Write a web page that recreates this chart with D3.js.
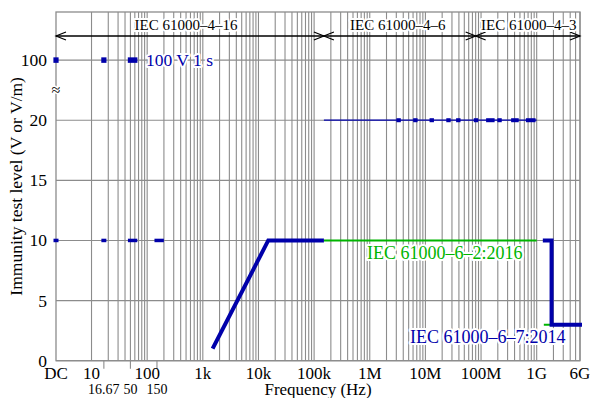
<!DOCTYPE html>
<html>
<head>
<meta charset="utf-8">
<script src="https://cdn.jsdelivr.net/npm/d3@7"></script>
<style>
  html, body { margin: 0; padding: 0; background: #fff; }
  svg { display: block; font-family: "Liberation Serif", "DejaVu Serif", serif; }
</style>
</head>
<body>
<svg id="chart" width="590" height="398"></svg>
<script>
// ---------- data ----------
const DC = 2.3;                       // position used for the "DC" tick
const xTickValues = [DC, 10, 100, 1e3, 1e4, 1e5, 1e6, 1e7, 1e8, 1e9, 6e9];
const xTickLabels = ["DC", "10", "100", "1k", "10k", "100k", "1M", "10M", "100M", "1G", "6G"];
const xSmallTickValues = [16.67, 50, 150];
const xSmallTickLabels = ["16.67", "50", "150"];
const yTickValues = [0, 5, 10, 15, 20, 100];
const yTickLabels = ["0", "5", "10", "15", "20", "100"];

// IEC 61000-6-7:2014 (blue)
const blueRamp = [[1.5e3, 1], [15e3, 10], [150e3, 10]];
const blueRadiated = [[1.4e9, 10], [1.85e9, 10], [1.85e9, 3], [6e9, 3]];
const blue20Line = [[150e3, 20], [1e9, 20]];
const blue20Spots = [[3.3e6], [6.6e6], [13e6], [26e6], [39e6], [81e6], [135e6, 160e6], [215e6], [380e6, 434e6], [700e6, 870e6]];
const blue100Spots = [[DC], [16.67], [50, 60]];
const blue10Spots = [[DC], [16.67], [50, 60], [150, 180]];
// IEC 61000-6-2:2016 (green)
const green10 = [[150e3, 10], [1e9, 10]];
const green3 = [[1.4e9, 3], [6e9, 3]];

const basicStandards = ["IEC 61000\u20134\u201316", "IEC 61000\u20134\u20136", "IEC 61000\u20134\u20133"];
const basicFrom = [DC, 150e3, 80e6];
const basicTo = [150e3, 80e6, 6e9];

const labelGreen = "IEC 61000\u20136\u20132:2016";
const labelBlue = "IEC 61000\u20136\u20137:2014";
const label100 = "100 V 1 s";

// ---------- layout ----------
const L = 56, R = 580, T = 12, B = 360.7;
const BLUE = "#0000aa", GREEN = "#00b400", GRID = "#8c8c8c";

const svg = d3.select("#chart");
const x = d3.scaleLog().domain([DC, 6e9]).range([L, R]);
const yLin = d3.scaleLinear().domain([0, 29]).range([B, T]);
const y = v => yLin(v === 100 ? 25 : v);   // axis break: 100 drawn at 25

// ---------- grid ----------
const gridX = [];
for (let e = 1; e <= 9; e++) {
  for (let m = 1; m <= 9; m++) {
    const f = m * Math.pow(10, e);
    if (f <= 6e9) gridX.push(f);
  }
}
const g = svg.append("g");
g.selectAll(".vg").data(gridX).join("line")
  .attr("x1", d => x(d)).attr("x2", d => x(d))
  .attr("y1", T).attr("y2", B)
  .attr("stroke", GRID).attr("stroke-width", 1.1);
g.selectAll(".hg").data(yTickValues).join("line")
  .attr("x1", L).attr("x2", R)
  .attr("y1", d => y(d)).attr("y2", d => y(d))
  .attr("stroke", GRID).attr("stroke-width", 1.1);
g.append("rect").attr("x", L).attr("y", T).attr("width", R - L).attr("height", B - T)
  .attr("fill", "none").attr("stroke", GRID).attr("stroke-width", 1.3);

// small ticks below the axis
g.selectAll(".st").data(xSmallTickValues).join("line")
  .attr("x1", d => x(d)).attr("x2", d => x(d))
  .attr("y1", B).attr("y2", B + 8)
  .attr("stroke", GRID).attr("stroke-width", 1.1);

// ---------- axes labels ----------
svg.append("g").selectAll("text").data(xTickValues).join("text")
  .attr("x", d => x(d)).attr("y", 379)
  .attr("text-anchor", "middle")
  .attr("font-size", 17)
  .text((d, i) => xTickLabels[i]);
svg.append("g").selectAll("text").data(xSmallTickValues).join("text")
  .attr("x", d => x(d)).attr("y", 394)
  .attr("text-anchor", "middle")
  .attr("font-size", 14)
  .text((d, i) => xSmallTickLabels[i]);
svg.append("g").selectAll("text").data(yTickValues).join("text")
  .attr("x", 47).attr("y", d => y(d) + 6)
  .attr("text-anchor", "end")
  .attr("font-size", 17.5)
  .text((d, i) => yTickLabels[i]);

svg.append("text").attr("x", (L + R) / 2).attr("y", 395)
  .attr("text-anchor", "middle").attr("font-size", 17).text("Frequency (Hz)");
svg.append("text").attr("transform", `translate(22,${(T + B) / 2}) rotate(-90)`)
  .attr("text-anchor", "middle").attr("font-size", 17.5).text("Immunity test level (V or V/m)");

// axis break symbol
svg.append("text").attr("x", L).attr("y", 95)
  .attr("text-anchor", "middle").attr("font-size", 16)
  .attr("fill", "#000")
  .attr("stroke", "#fff").attr("stroke-width", 3).attr("paint-order", "stroke")
  .text("\u2248");

// ---------- basic standard ranges with arrows ----------
const arrowY = 36;
const ag = svg.append("g");
basicStandards.forEach((name, i) => {
  const x1 = x(basicFrom[i]), x2 = x(basicTo[i]);
  ag.append("line").attr("x1", x1).attr("x2", x2).attr("y1", arrowY).attr("y2", arrowY)
    .attr("stroke", "#000").attr("stroke-width", 1.5);
  ag.append("path")
    .attr("d", `M${x1 + 10},${arrowY - 4} L${x1},${arrowY} L${x1 + 10},${arrowY + 4}`)
    .attr("fill", "none").attr("stroke", "#000").attr("stroke-width", 1.2);
  ag.append("path")
    .attr("d", `M${x2 - 10},${arrowY - 4} L${x2},${arrowY} L${x2 - 10},${arrowY + 4}`)
    .attr("fill", "none").attr("stroke", "#000").attr("stroke-width", 1.2);
  ag.append("text")
    .attr("x", (x1 + x2) / 2 - (i === 0 ? 4 : i === 1 ? 2 : -1)).attr("y", 30)
    .attr("text-anchor", "middle").attr("font-size", 15)
    .attr("stroke", "#fff").attr("stroke-width", 4).attr("stroke-linejoin", "round")
    .attr("paint-order", "stroke")
    .text(name);
});

// ---------- data marks ----------
const line = d3.line().x(d => x(d[0])).y(d => y(d[1]));
const dg = svg.append("g");

// green 61000-6-2
dg.append("path").attr("d", line(green10)).attr("fill", "none")
  .attr("stroke", GREEN).attr("stroke-width", 2);
dg.append("path").attr("d", line(green3)).attr("fill", "none")
  .attr("stroke", GREEN).attr("stroke-width", 2).attr("stroke-linecap", "square");

// blue 20 V thin line + spots
dg.append("path").attr("d", line(blue20Line)).attr("fill", "none")
  .attr("stroke", BLUE).attr("stroke-width", 1.3);
function spots(data, level, h, ext) {
  dg.selectAll(null).data(data).join("rect")
    .attr("x", d => x(d[0]) - ext)
    .attr("width", d => x(d[d.length - 1]) - x(d[0]) + 2 * ext)
    .attr("y", y(level) - h / 2).attr("height", h)
    .attr("fill", BLUE);
}
spots(blue20Spots, 20, 4, 2.2);
spots(blue100Spots, 100, 5.5, 2.6);
spots(blue10Spots, 10, 3.5, 2.5);

// blue thick lines
dg.append("path").attr("d", line(blueRamp)).attr("fill", "none")
  .attr("stroke", BLUE).attr("stroke-width", 4).attr("stroke-linejoin", "miter");
dg.append("path").attr("d", line(blueRadiated)).attr("fill", "none")
  .attr("stroke", BLUE).attr("stroke-width", 4).attr("stroke-linecap", "square")
  .attr("stroke-linejoin", "miter");

// ---------- annotation labels ----------
function halo(sel) {
  return sel.attr("stroke", "#fff").attr("stroke-width", 4)
    .attr("stroke-linejoin", "round").attr("paint-order", "stroke");
}
halo(svg.append("text").attr("x", 146).attr("y", 66).attr("font-size", 17.5)
  .attr("fill", BLUE).text(label100));
halo(svg.append("text").attr("x", 367).attr("y", 259).attr("font-size", 18)
  .attr("fill", GREEN).text(labelGreen));
halo(svg.append("text").attr("x", 410).attr("y", 343).attr("font-size", 18)
  .attr("fill", BLUE).text(labelBlue));
</script>
</body>
</html>
